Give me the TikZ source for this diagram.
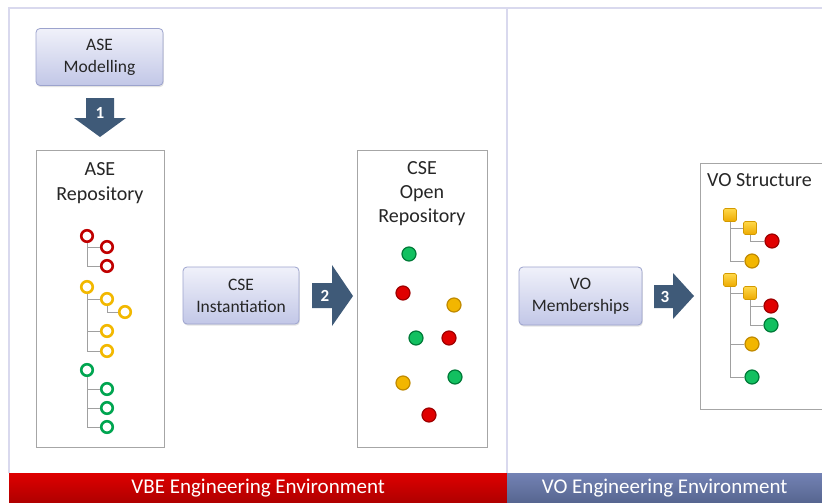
\documentclass[tikz,border=0pt]{standalone}
\usepackage{fontspec}
\setmainfont{Carlito}
\usetikzlibrary{shadows}
\definecolor{frameline}{HTML}{D9D9EE}
\definecolor{boxtop}{HTML}{F0F1FA}
\definecolor{boxbot}{HTML}{C2C7E7}
\definecolor{boxborder}{HTML}{9CA3CD}
\definecolor{arrowblue}{HTML}{3F5A78}
\definecolor{repoborder}{HTML}{A6A6A6}
\definecolor{treeline}{HTML}{A0A0A0}
\definecolor{textdark}{HTML}{262626}
\definecolor{ringred}{HTML}{C00000}
\definecolor{ringyellow}{HTML}{F2B800}
\definecolor{ringgreen}{HTML}{00A550}
\definecolor{dotred}{HTML}{E00000}
\definecolor{dotredline}{HTML}{9E0000}
\definecolor{dotyellow}{HTML}{F2B600}
\definecolor{dotyellowline}{HTML}{C08A00}
\definecolor{dotgreen}{HTML}{12C060}
\definecolor{dotgreenline}{HTML}{007A38}
\definecolor{foldtop}{HTML}{FFD84A}
\definecolor{foldbot}{HTML}{EDAA00}
\definecolor{foldline}{HTML}{D39A00}
\definecolor{redtop}{HTML}{DE0000}
\definecolor{redbot}{HTML}{AE0000}
\definecolor{bluetop}{HTML}{7382B4}
\definecolor{bluebot}{HTML}{56658F}
\begin{document}
\begin{tikzpicture}[x=1pt,y=-1pt,
  softbox/.style={draw=boxborder, line width=0.8pt, rounded corners=4pt,
    top color=boxtop, bottom color=boxbot, align=center, text=textdark,
    font=\fontsize{17.5}{22}\selectfont, inner sep=0pt,
    drop shadow={opacity=0.22, shadow xshift=0.8pt, shadow yshift=-1.6pt}},
  repo/.style={draw=repoborder, line width=0.9pt, fill=white, inner sep=0pt, anchor=north west},
  title/.style={font=\fontsize{20}{25}\selectfont, text=textdark, inner sep=0pt, anchor=base},
  blockarrow/.style={fill=arrowblue},
  num/.style={font=\fontsize{17}{20}\selectfont\bfseries, text=white, inner sep=0pt},
  ring/.style={circle, draw=#1, line width=2.6pt, minimum size=11.5pt, inner sep=0pt, fill=white},
  dot/.style={circle, draw=#1line, fill=#1, line width=1.2pt, minimum size=14pt, inner sep=0pt},
  folder/.style={draw=foldline, line width=0.6pt, rounded corners=1.5pt, top color=foldtop,
    bottom color=foldbot, minimum width=13pt, minimum height=13pt, inner sep=0pt},
  tree/.style={draw=treeline, line width=1pt},
  bar/.style={minimum height=30pt, inner sep=0pt, anchor=north west, text=white,
    font=\fontsize{21}{24}\selectfont}
]
\useasboundingbox (0,0) rectangle (822,503);
\fill[white] (0,0) rectangle (822,503);

% frame
\draw[frameline, line width=1.2pt] (9,473) -- (9,8) -- (822,8);
\draw[frameline, line width=1.2pt] (507,8) -- (507,473);

% bottom bars
\node[bar, minimum width=498pt, top color=redtop, bottom color=redbot] (vbe) at (9,473) {VBE Engineering Environment};
\node[bar, minimum width=315pt, top color=bluetop, bottom color=bluebot] (voe) at (507,473) {VO Engineering Environment};

% ASE Modelling
\node[softbox, minimum width=127pt, minimum height=57pt] (asem) at (99.5,57) {ASE\\Modelling};

% arrow 1
\fill[blockarrow] (86,98) -- (114,98) -- (114,118) -- (126,118) -- (100,137) -- (74,118) -- (86,118) -- cycle;
\node[num] (n1) at (100,113) {1};

% ASE Repository
\node[repo, minimum width=128pt, minimum height=297pt] (aser) at (36,150) {};
\node[title] (aset1) at (100,175) {ASE};
\node[title] (aset2) at (100,200) {Repository};

\node[ring=ringred] (r1) at (87,236) {};
\node[ring=ringred] (r1a) at (107,247) {};
\node[ring=ringred] (r1b) at (107,266) {};
\node[ring=ringyellow] (y1) at (87,287) {};
\node[ring=ringyellow] (y1a) at (107,299) {};
\node[ring=ringyellow] (y1aa) at (125,312) {};
\node[ring=ringyellow] (y1b) at (107,331) {};
\node[ring=ringyellow] (y1c) at (107,351) {};
\node[ring=ringgreen] (g1) at (87,370) {};
\node[ring=ringgreen] (g1a) at (107,389) {};
\node[ring=ringgreen] (g1b) at (107,408) {};
\node[ring=ringgreen] (g1c) at (107,427) {};
\draw[tree] (r1.south) |- (r1a.west);
\draw[tree] (r1.south) |- (r1b.west);
\draw[tree] (y1.south) |- (y1a.west);
\draw[tree] (y1a.south) |- (y1aa.west);
\draw[tree] (y1.south) |- (y1b.west);
\draw[tree] (y1.south) |- (y1c.west);
\draw[tree] (g1.south) |- (g1a.west);
\draw[tree] (g1.south) |- (g1b.west);
\draw[tree] (g1.south) |- (g1c.west);

% CSE Instantiation
\node[softbox, minimum width=116pt, minimum height=57pt] (csei) at (241,295.5) {CSE\\Instantiation};

% arrow 2
\fill[blockarrow] (312,283) -- (332,283) -- (332,265) -- (353,296) -- (332,326) -- (332,308) -- (312,308) -- cycle;
\node[num] (n2) at (325,296) {2};

% CSE Open Repository
\node[repo, minimum width=130pt, minimum height=297pt] (cser) at (357,150) {};
\node[title] (cset1) at (422,174) {CSE};
\node[title] (cset2) at (422,198) {Open};
\node[title] (cset3) at (422,222) {Repository};

\node[dot=dotgreen] (d1) at (409,254) {};
\node[dot=dotred] (d2) at (403,293) {};
\node[dot=dotyellow] (d3) at (454,305) {};
\node[dot=dotgreen] (d4) at (416,338) {};
\node[dot=dotred] (d5) at (449,338) {};
\node[dot=dotgreen] (d6) at (455,377) {};
\node[dot=dotyellow] (d7) at (403,383) {};
\node[dot=dotred] (d8) at (429,415) {};

% VO Memberships
\node[softbox, minimum width=123pt, minimum height=58pt] (vom) at (580.5,296) {VO\\Memberships};

% arrow 3
\fill[blockarrow] (654,285) -- (673,285) -- (673,273) -- (694,296) -- (673,319) -- (673,308) -- (654,308) -- cycle;
\node[num] (n3) at (665,297) {3};

% VO Structure
\draw[repoborder, line width=0.9pt] (822,163) -- (700,163) -- (700,409) -- (822,409);
\node[font=\fontsize{20}{25}\selectfont, text=textdark, inner sep=0pt, anchor=base west] (vost) at (707,186) {VO Structure};

\node[folder] (f1) at (730,215) {};
\node[folder] (f2) at (750,228) {};
\node[dot=dotred] (vr1) at (772,241) {};
\node[dot=dotyellow] (vy1) at (752,261) {};
\node[folder] (f3) at (730,280) {};
\node[folder] (f4) at (750,293) {};
\node[dot=dotred] (vr2) at (771,306) {};
\node[dot=dotgreen] (vg2) at (771,325) {};
\node[dot=dotyellow] (vy2) at (752,344) {};
\node[dot=dotgreen] (vg3) at (752,377) {};
\draw[tree] (f1.south) |- (f2.west);
\draw[tree] (f1.south) |- (vy1.west);
\draw[tree] (f2.south) |- (vr1.west);
\draw[tree] (f3.south) |- (f4.west);
\draw[tree] (f3.south) |- (vy2.west);
\draw[tree] (f3.south) |- (vg3.west);
\draw[tree] (f4.south) |- (vr2.west);
\draw[tree] (f4.south) |- (vg2.west);
\end{tikzpicture}
\end{document}
